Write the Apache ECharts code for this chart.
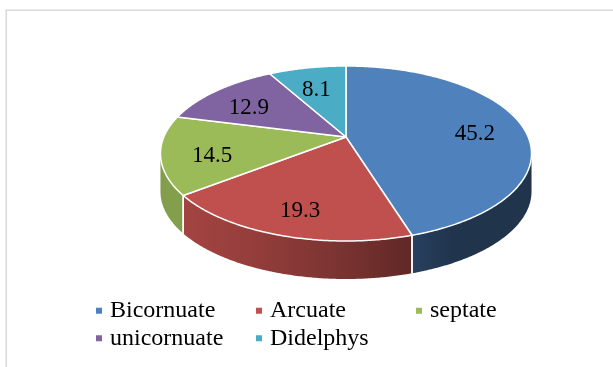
<!DOCTYPE html>
<html>
<head>
<meta charset="utf-8">
<script src="https://cdn.jsdelivr.net/npm/echarts@6/dist/echarts.min.js"></script>
<style>
html,body{margin:0;padding:0;background:#fff;}
#chart{width:613px;height:367px;}
</style>
</head>
<body>
<div id="chart"></div>
<script>
// ---- data ----
const categories = ['Bicornuate', 'Arcuate', 'septate', 'unicornuate', 'Didelphys'];
const values = [45.2, 19.3, 14.5, 12.9, 8.1];
const colors = ['#4F81BD', '#C0504D', '#9BBB59', '#8064A2', '#4BACC6'];

// ---- layout of the 3D pie (perspective ellipse) ----
const CX = 346, CY = 137, RA = 182.2, RB = 84.4, K = 0.1886, DEPTH = 38;
const LABEL_R = 0.73, LABEL_DY = 6;
const FONT = '"Liberation Serif", "Times New Roman", serif';

const total = values.reduce((a, b) => a + b, 0);
const TH_L = Math.acos(-K), TH_R = 2 * Math.PI - TH_L;

function proj(theta, r, h) {
  const u = r * Math.sin(theta), v = -r * Math.cos(theta);
  const d = 1 - K * v;
  return [CX + RA * u / d, CY + RB * v / d + (h || 0)];
}
function shade(hex, theta) {
  const nx = Math.sin(theta), ny = -Math.cos(theta);
  const dot = Math.max(0, nx * -0.866 + ny * 0.5);
  const f = 0.40 + 0.45 * dot;
  const n = parseInt(hex.slice(1), 16);
  const r = Math.round(((n >> 16) & 255) * f), g = Math.round(((n >> 8) & 255) * f), b = Math.round((n & 255) * f);
  return 'rgb(' + r + ',' + g + ',' + b + ')';
}
function arc(a, b, h) {
  const pts = [];
  const steps = Math.max(2, Math.ceil((b - a) / (Math.PI / 360)));
  for (let s = 0; s <= steps; s++) pts.push(proj(a + (b - a) * s / steps, 1, h));
  return pts;
}

function makeRender(i) {
  return function (params, api) {
    let before = 0;
    for (let j = 0; j < i; j++) before += values[j];
    const v = api.value(0);
    const a = before / total * 2 * Math.PI;
    const b = (before + v) / total * 2 * Math.PI;
    const color = colors[i];
    const children = [];
    // side face
    const sa = Math.max(a, TH_L), sb = Math.min(b, TH_R);
    if (sb > sa) {
      const top = arc(sa, sb, 0);
      const bot = arc(sa, sb, DEPTH).reverse();
      const xl = proj(sb, 1, 0)[0], xr = proj(sa, 1, 0)[0];
      const stops = [];
      const N = 24;
      for (let s = 0; s <= N; s++) {
        const t = sb - (sb - sa) * s / N;
        const x = proj(t, 1, 0)[0];
        stops.push({ offset: Math.min(1, Math.max(0, (x - xl) / (xr - xl))), color: shade(color, t) });
      }
      children.push({
        type: 'polygon', z2: 1,
        shape: { points: top.concat(bot) },
        style: { fill: { type: 'linear', x: xl, y: 0, x2: xr, y2: 0, global: true, colorStops: stops }, stroke: null }
      });
      [a, b].forEach(function (t) {
        if (t > TH_L + 0.01 && t < TH_R - 0.01) {
          const p1 = proj(t, 1, 0), p2 = proj(t, 1, DEPTH);
          children.push({ type: 'line', z2: 2, shape: { x1: p1[0], y1: p1[1], x2: p2[0], y2: p2[1] }, style: { stroke: '#fff', lineWidth: 1.5 } });
        }
      });
    }
    // top face
    const pts = [proj(0, 0, 0)].concat(arc(a, b, 0));
    children.push({
      type: 'polygon', z2: 10,
      shape: { points: pts },
      style: { fill: color, stroke: '#fff', lineWidth: 1.5, lineJoin: 'round' }
    });
    // label
    const m = (a + b) / 2;
    const lp = proj(m, LABEL_R, 0);
    children.push({
      type: 'text', z2: 20,
      style: { text: v.toFixed(1), x: lp[0], y: lp[1] + LABEL_DY, fill: '#000', fontSize: 23, fontFamily: FONT, align: 'center', verticalAlign: 'middle' }
    });
    return { type: 'group', children: children };
  };
}

const chart = echarts.init(document.getElementById('chart'), null, { renderer: 'canvas' });
chart.setOption({
  animation: false,
  backgroundColor: '#fff',
  graphic: [{
    type: 'rect', silent: true,
    shape: { x: 6.25, y: 10.25, width: 700, height: 500 },
    style: { fill: null, stroke: '#D9D9D9', lineWidth: 1.5 }
  }],
  legend: {
    left: 96, top: 297, width: 490, padding: 0,
    itemWidth: 6, itemHeight: 6, itemGap: 0, icon: 'rect',
    data: categories,
    textStyle: { fontFamily: FONT, fontSize: 24, color: '#000', width: 146, padding: [0, 0, 0, 3], lineHeight: 27.5 }
  },
  series: categories.map(function (name, i) {
    return {
      type: 'custom', name: name, coordinateSystem: 'none',
      itemStyle: { color: colors[i] },
      data: [values[i]],
      renderItem: makeRender(i)
    };
  })
});
</script>
</body>
</html>
